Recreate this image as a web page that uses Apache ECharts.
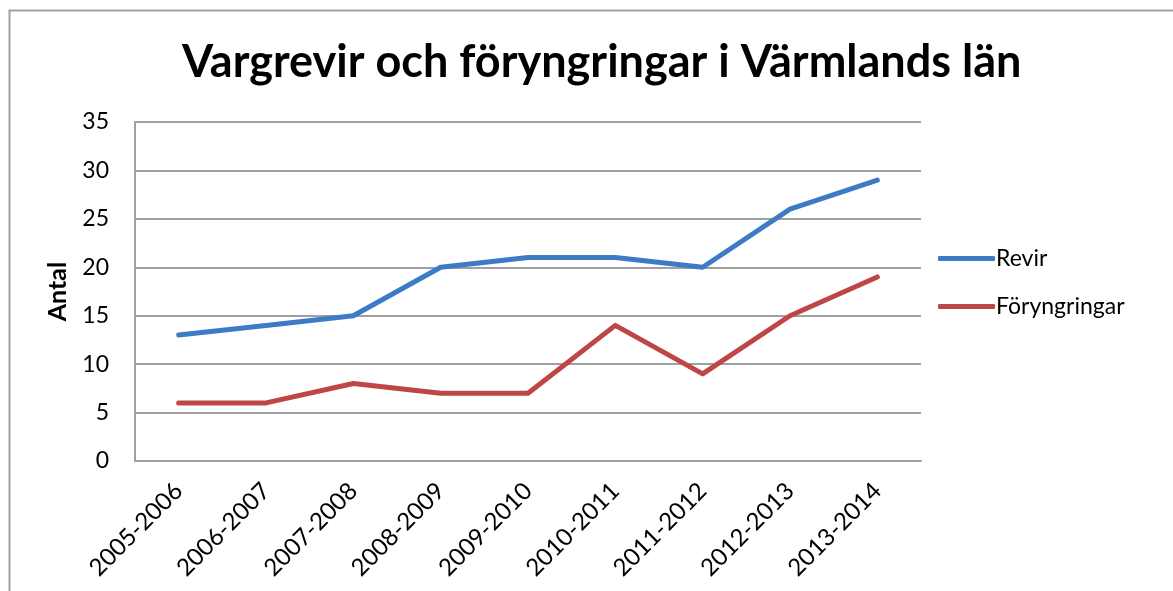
<!DOCTYPE html>
<html><head><meta charset="utf-8">
<script src="https://cdn.jsdelivr.net/npm/echarts@6/dist/echarts.min.js"></script>
<style>html,body{margin:0;padding:0;background:#fff}#c{width:1173px;height:591px}</style>
</head><body><div id="c"></div>
<script>
var categories = ['2005-2006','2006-2007','2007-2008','2008-2009','2009-2010','2010-2011','2011-2012','2012-2013','2013-2014'];
var revir = [13, 14, 15, 20, 21, 21, 20, 26, 29];
var foryngringar = [6, 6, 8, 7, 7, 14, 9, 15, 19];
var yTicks = [0, 5, 10, 15, 20, 25, 30, 35];
var F = 'Lato, "Open Sans", sans-serif';
var chart = echarts.init(document.getElementById('c'));
chart.setOption({
  animation: false,
  graphic: [{type:'rect', shape:{x:9.5,y:10.5,width:1200,height:700}, style:{fill:'none',stroke:'#a0a0a0',lineWidth:2}, silent:true}],
  title: {text:'Vargrevir och föryngringar i Värmlands län', left:177, top:35, textStyle:{fontFamily:F, fontWeight:'bold', fontSize:45, color:'#000'}},
  legend: {orient:'vertical', left:933, top:242, itemWidth:57, itemHeight:5, itemGap:25, icon:'roundRect',
    textStyle:{fontFamily:F, fontSize:23, color:'#000', padding:[0,0,0,-4]},
    data:['Revir','Föryngringar']},
  grid: {left:135, right:252, top:122, bottom:130},
  xAxis: {type:'category', data:categories, boundaryGap:true,
    axisLine:{lineStyle:{color:'#a0a0a0', width:2}}, axisTick:{show:false},
    axisLabel:{rotate:45, fontFamily:F, fontSize:24, color:'#000', margin:26, interval:0}},
  yAxis: {type:'value', min:0, max:35, interval:5, name:'Antal', nameLocation:'middle', nameGap:65,
    nameTextStyle:{fontFamily:F, fontSize:25, fontWeight:'bold', color:'#000'},
    axisLine:{show:true, lineStyle:{color:'#a0a0a0', width:2}}, axisTick:{show:false},
    axisLabel:{fontFamily:F, fontSize:23, color:'#000', margin:26, formatter:function(v){return yTicks.indexOf(v)>=0?String(v):'';}},
    splitLine:{lineStyle:{color:'#a0a0a0', width:2}}},
  series: [
    {name:'Revir', type:'line', data:revir, symbol:'none', lineStyle:{color:'#3d7cc4', width:5, cap:'round', join:'round'}, itemStyle:{color:'#3d7cc4'}},
    {name:'Föryngringar', type:'line', data:foryngringar, symbol:'none', lineStyle:{color:'#be4644', width:5, cap:'round', join:'round'}, itemStyle:{color:'#be4644'}}
  ]
});
</script></body></html>
